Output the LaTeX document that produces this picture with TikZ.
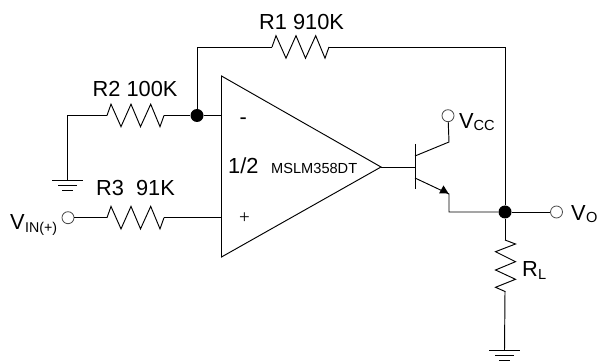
\documentclass[tikz,border=0pt]{standalone}
\usepackage{fontspec}
\setmainfont{Liberation Sans}
\newcommand{\zigh}[1]{(#1) -- ++(4,-11.3) -- ++(10,22.5) -- ++(10,-22.5) -- ++(9.5,22.5) -- ++(10.2,-22.5) -- ++(9.3,22.5) -- ++(4,-11.2)}
\newcommand{\zigv}[1]{(#1) -- ++(10.5,4) -- ++(-20,7.7) -- ++(20,10) -- ++(-20,8.3) -- ++(20,9.3) -- ++(-20,8) -- ++(10,4.4)}
\newcommand{\gnd}[1]{(#1) ++(-15.5,0) -- ++(31,0) (#1) ++(-9.5,5.2) -- ++(19,0) (#1) ++(-5.5,10) -- ++(11,0)}
\tikzset{
  wire/.style={draw=black,line width=0.95pt,line join=miter},
  dotnode/.style={circle,fill=black,inner sep=0pt,minimum size=13pt},
  term/.style={circle,draw=black!70,fill=white,line width=0.8pt,inner sep=0pt,minimum size=12pt},
  lab/.style={anchor=base west,inner sep=0pt,font=\fontsize{21.8}{24}\selectfont},
  small/.style={anchor=base west,inner sep=0pt,font=\fontsize{14.6}{16}\selectfont}
}
\begin{document}
\begin{tikzpicture}[x=1pt,y=-1pt]
\useasboundingbox (0,0) rectangle (597,363);
% op amp
\coordinate (oa1) at (221.5,76);
\coordinate (oa2) at (221.5,257);
\coordinate (oa3) at (381,167);
\coordinate (inm) at (221.5,115.5);
\coordinate (inp) at (221.5,217.7);
\draw[wire] (oa1) -- (oa2) -- (oa3) -- cycle;
% key points
\node[dotnode] (j1) at (197,115.5) {};
\node[dotnode] (j2) at (505,212) {};
\node[term] (tin) at (68,217.7) {};
\node[term] (tcc) at (448,115.7) {};
\node[term] (tout) at (556.5,212) {};
\coordinate (r1a) at (272,47);
\coordinate (r1b) at (329,47);
\coordinate (r2a) at (107,115.5);
\coordinate (r2b) at (164,115.5);
\coordinate (r3a) at (107,217.7);
\coordinate (r3b) at (164,217.7);
\coordinate (rla) at (505,240);
\coordinate (rlb) at (505,291.7);
\coordinate (g1) at (67.5,180);
\coordinate (g2) at (504.5,350.7);
\coordinate (c1) at (197,47);
\coordinate (c2) at (505,47);
\coordinate (c3) at (67.5,115.5);
% resistors
\draw[wire] \zigh{r1a};
\draw[wire] \zigh{r2a};
\draw[wire] \zigh{r3a};
\draw[wire] \zigv{rla};
% wires
\draw[wire] (j1) -- (c1) -- (r1a);
\draw[wire] (r1b) -- (c2) -- (j2);
\draw[wire] (j1) -- (inm);
\draw[wire] (r2b) -- (j1);
\draw[wire] (r2a) -- (c3) -- (g1);
\draw[wire] (tin) -- (r3a);
\draw[wire] (r3b) -- (inp);
\draw[wire] (j2) -- (tout);
\draw[wire] (j2) -- (rla);
\draw[wire] (rlb) -- (g2);
\draw[wire] \gnd{g1};
\draw[wire] \gnd{g2};
% transistor
\coordinate (b1) at (415,144);
\coordinate (b2) at (415,189);
\coordinate (bm) at (415,167);
\coordinate (ci) at (415,156);
\coordinate (co) at (449,142);
\coordinate (ei) at (415,178);
\coordinate (eo) at (449,194);
\coordinate (ed) at (449,212);
\draw[wire] (b1) -- (b2);
\draw[wire] (oa3) -- (bm);
\draw[wire] (ci) -- (co) -- (tcc);
\draw[wire] (ei) -- (eo) -- (ed) -- (j2);
\fill[black] (448.5,193.5) -- (439,193.5) -- (443.5,185.5) -- cycle;
% labels
\node[lab] (lr1) at (259,30) {R1 910K};
\node[lab] (lr2) at (92.5,97) {R2 100K};
\node[lab] (lr3) at (96,196) {R3\hspace{6pt} 91K};
\node[lab] (l12) at (228,174) {1/2};
\node[small] (lic) at (271,174) {MSLM358DT};
\node[lab] (lm) at (239.5,125) {-};
\node[lab,font=\fontsize{19}{22}\selectfont\fontspec{Liberation Serif}] (lp) at (239,224) {+};
\node[lab] (lvin) at (10,230) {V};
\node[small,font=\fontsize{14.2}{16}\selectfont] (lvins) at (25,233) {IN(+)};
\node[lab] (lvcc) at (459,129) {V};
\node[lab,font=\fontsize{14.6}{16}\selectfont] (lvccs) at (473.5,131) {CC};
\node[lab] (lvo) at (571,220.7) {V};
\node[lab,font=\fontsize{14.6}{16}\selectfont] (lvos) at (586,223) {O};
\node[lab] (lrl) at (522,277) {R};
\node[lab,font=\fontsize{14.6}{16}\selectfont] (lrls) at (538,279.5) {L};
\end{tikzpicture}
\end{document}
